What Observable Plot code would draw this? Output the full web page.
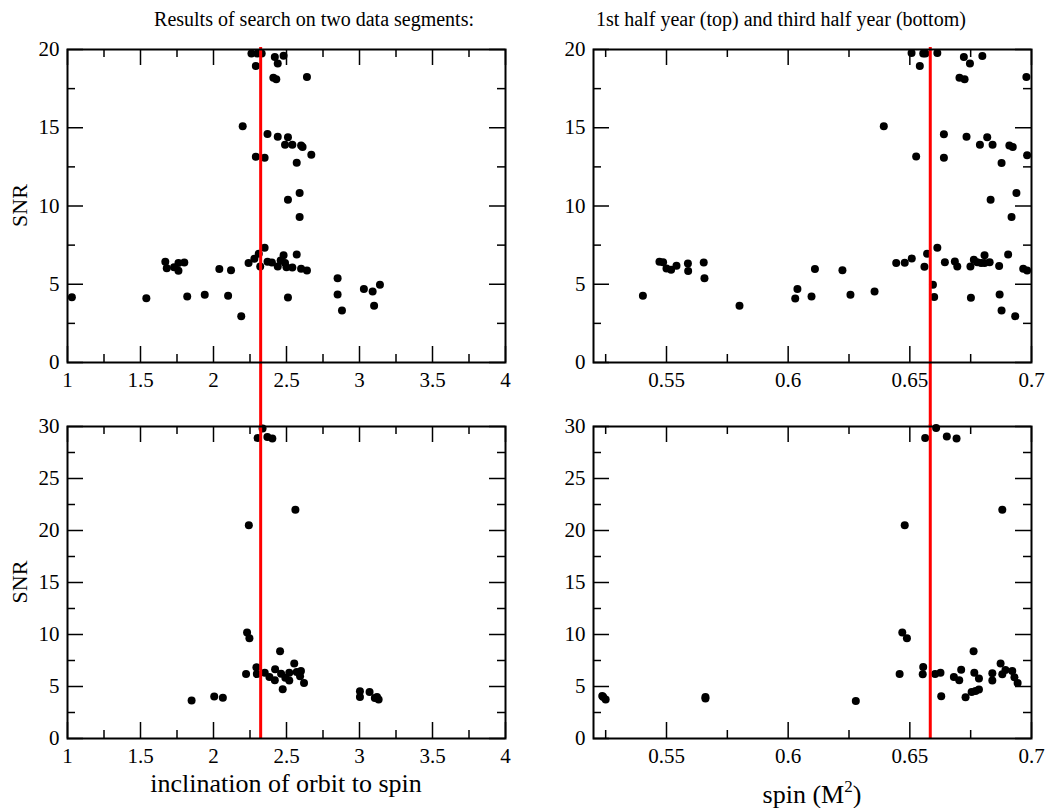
<!DOCTYPE html>
<html><head><meta charset="utf-8">
<script src="https://cdn.jsdelivr.net/npm/d3@7"></script>
<script src="https://cdn.jsdelivr.net/npm/@observablehq/plot@0.6"></script>
<style>
html,body{margin:0;padding:0;background:#fff;}
#chart{position:relative;width:1047px;height:808px;overflow:hidden;background:#fff;}
#chart svg{position:absolute;left:0;top:0;}
#chart svg, #chart svg text, #chart svg tspan{font-family:"Liberation Serif","Times New Roman",serif !important;}
</style></head><body><div id="chart"></div>
<script>
// ---------- data ----------
// first half year (top panels)
const inclTop = [1.03,1.54,1.82,1.94,2.10,2.51,2.19,1.67,1.68,1.73,1.76,1.76,1.80,2.04,2.12,
  2.20,2.29,2.35,2.37,2.44,2.51,2.49,2.54,2.60,2.61,2.67,2.57,2.59,2.51,2.59,
  2.26,2.30,2.33,2.29,2.42,2.48,2.44,2.41,2.43,2.64,
  2.24,2.28,2.31,2.35,2.32,2.37,2.40,2.44,2.46,2.48,2.49,2.50,2.54,2.57,2.60,2.64,
  2.85,2.85,2.88,3.03,3.09,3.14,3.10];
const snrInclTop = [4.17,4.11,4.22,4.33,4.26,4.16,2.95,6.44,6.03,6.09,6.35,5.86,6.39,5.97,5.90,
  15.09,13.15,13.09,14.6,14.43,14.4,13.92,13.92,13.86,13.77,13.28,12.77,10.83,10.4,9.29,
  19.74,19.74,19.74,18.95,19.52,19.6,19.1,18.2,18.1,18.24,
  6.35,6.63,6.95,7.33,6.14,6.44,6.39,6.14,6.52,6.86,6.35,6.09,6.07,6.9,5.99,5.88,
  5.39,4.35,3.32,4.69,4.54,4.97,3.62];
const spinTop = [0.5403,0.5471,0.5486,0.5500,0.5519,0.5541,0.5588,0.5589,0.5653,0.5656,0.5800,
  0.6029,0.6038,0.6096,0.6110,0.6223,0.6256,0.6355,0.6393,0.6444,0.6479,0.6508,0.6526,
  0.6507,0.6555,0.6564,0.6613,0.6541,0.6560,0.6571,0.6613,0.6595,0.6600,0.6640,0.6640,
  0.6644,0.6685,0.6695,0.6704,0.6725,0.6722,0.6747,0.6798,0.6733,0.6751,0.6749,0.6763,
  0.6777,0.6788,0.6793,0.6807,0.6807,0.6818,0.6828,0.6840,0.6832,0.6867,0.6869,0.6877,
  0.6877,0.6904,0.6909,0.6923,0.6918,0.6933,0.6938,0.6966,0.6982,0.6979,0.6982];
const snrSpinTop = [4.26,6.44,6.41,6.01,5.93,6.18,6.33,5.84,6.39,5.39,3.62,
  4.09,4.69,4.22,5.97,5.90,4.33,4.54,15.09,6.35,6.37,6.65,13.17,
  19.78,19.74,19.74,19.78,18.95,6.12,6.95,7.33,4.97,4.18,14.58,13.09,
  6.41,6.46,6.14,18.2,18.1,19.52,19.1,19.58,14.43,4.14,6.14,6.56,
  6.41,13.92,6.35,6.86,6.35,14.4,6.41,13.92,10.4,6.16,4.35,12.74,
  3.32,6.9,13.86,13.77,9.29,2.96,10.83,5.99,5.88,18.24,13.24];
// third half year (bottom panels)
const inclBottom = [2.336,2.302,2.369,2.403,2.561,2.242,2.230,2.246,2.456,2.223,2.294,2.297,
  2.351,2.383,2.422,2.420,2.463,2.492,2.474,2.519,2.519,2.553,2.570,2.599,2.593,2.620,
  1.850,2.005,2.064,3.003,3.003,3.069,3.105,3.131,3.120];
const snrInclBottom = [29.8,28.9,29.0,28.85,22.0,20.5,10.2,9.65,8.38,6.2,6.84,6.2,
  6.33,5.91,6.65,5.6,6.23,5.85,4.73,6.33,5.57,7.2,6.39,6.49,5.98,5.34,
  3.65,4.03,3.93,4.54,3.99,4.47,3.9,3.74,3.99];
const spinBottom = [0.6608,0.6563,0.6652,0.6692,0.6880,0.6479,0.6469,0.6488,0.6762,0.6458,
  0.6555,0.6553,0.6604,0.6626,0.6629,0.6681,0.6711,0.6703,0.6729,0.6754,0.6770,0.6784,
  0.6765,0.6784,0.6839,0.6839,0.6873,0.6880,0.6893,0.6921,0.6930,0.6943,
  0.5236,0.5250,0.5240,0.5660,0.5660,0.6278];
const snrSpinBottom = [29.85,28.89,29.04,28.85,22.0,20.5,10.2,9.65,8.38,6.2,
  6.87,6.17,6.2,6.33,4.06,5.91,6.62,5.6,3.96,4.47,4.57,4.7,
  6.33,5.76,6.27,5.57,7.2,6.17,6.58,6.49,5.88,5.34,
  4.09,3.74,3.99,4.0,3.85,3.61];
// reference lines (red)
const inclMark = 2.323;
const spinMark = 0.6584;
// ticks
const inclDomain = [1, 4];
const spinDomain = [0.52, 0.70];
const inclMajor = [1, 1.5, 2, 2.5, 3, 3.5, 4];
const inclMinor = [1.25, 1.75, 2.25, 2.75, 3.25, 3.75];
const spinMajor = [0.55, 0.6, 0.65, 0.7];
const spinMinor = [0.525, 0.575, 0.625, 0.675];
const snrTopDomain = [0, 20];
const snrTopMajor = [0, 5, 10, 15, 20];
const snrTopMinor = [2.5, 7.5, 12.5, 17.5];
const snrBottomDomain = [0, 30];
const snrBottomMajor = [0, 5, 10, 15, 20, 25, 30];
const snrBottomMinor = [2.5, 7.5, 12.5, 17.5, 22.5, 27.5];
// texts
const titleLeft = "Results of search on two data segments:";
const titleRight = "1st half year (top) and third half year (bottom)";
const yLabel = "SNR";
const xLabelLeft = "inclination of orbit to spin";
const xLabelRight = ["spin (M", "2", ")"];

// ---------- layout ----------
const W = 1047, H = 808;
const FONT = "Liberation Serif, Times New Roman, serif";
const cols = [{l: 67, r: 505}, {l: 593, r: 1031}];
const rows = [{t: 49, b: 362}, {t: 426, b: 738}];

function panel({xs, ys, xDomain, yDomain, xMaj, xMin, yMaj, yMin, col, row, mark, extend}) {
  const fw = col.r - col.l, fh = row.b - row.t;
  const major = 16, minor = 8;
  const idx = d3.range(xs.length);
  return Plot.plot({
    width: W, height: H,
    marginLeft: col.l, marginRight: W - col.r, marginTop: row.t, marginBottom: H - row.b,
    style: {background: "transparent", overflow: "visible", fontFamily: FONT, color: "black"},
    x: {domain: xDomain},
    y: {domain: yDomain},
    marks: [
      Plot.ruleX(xMaj, {insetTop: fh - major, stroke: "black", strokeWidth: 1.5}),
      Plot.ruleX(xMaj, {insetBottom: fh - major, stroke: "black", strokeWidth: 1.5}),
      Plot.ruleX(xMin, {insetTop: fh - minor, stroke: "black", strokeWidth: 1.5}),
      Plot.ruleX(xMin, {insetBottom: fh - minor, stroke: "black", strokeWidth: 1.5}),
      Plot.ruleY(yMaj, {insetRight: fw - major, stroke: "black", strokeWidth: 1.5}),
      Plot.ruleY(yMaj, {insetLeft: fw - major, stroke: "black", strokeWidth: 1.5}),
      Plot.ruleY(yMin, {insetRight: fw - minor, stroke: "black", strokeWidth: 1.5}),
      Plot.ruleY(yMin, {insetLeft: fw - minor, stroke: "black", strokeWidth: 1.5}),
      Plot.axisX(xMaj, {anchor: "bottom", tickSize: 0, tickPadding: 10, tickFormat: d => String(d),
        fontSize: 21, fontFamily: FONT, fill: "black", label: null}),
      Plot.axisY(yMaj, {anchor: "left", tickSize: 0, tickPadding: 8, tickFormat: d => String(d),
        fontSize: 21, fontFamily: FONT, fill: "black", label: null}),
      Plot.dot(idx, {x: i => xs[i], y: i => ys[i], r: 4, fill: "black", stroke: "none"}),
      Plot.ruleX([mark], {stroke: "#ff0000", strokeWidth: 3, insetTop: -2, insetBottom: -extend}),
      Plot.frame({stroke: "black", strokeWidth: 2})
    ]
  });
}

const chart = document.getElementById("chart");
const gap = rows[1].t - rows[0].b;
const specs = [
  {xs: inclTop, ys: snrInclTop, xDomain: inclDomain, yDomain: snrTopDomain, xMaj: inclMajor, xMin: inclMinor,
   yMaj: snrTopMajor, yMin: snrTopMinor, col: cols[0], row: rows[0], mark: inclMark, extend: gap},
  {xs: spinTop, ys: snrSpinTop, xDomain: spinDomain, yDomain: snrTopDomain, xMaj: spinMajor, xMin: spinMinor,
   yMaj: snrTopMajor, yMin: snrTopMinor, col: cols[1], row: rows[0], mark: spinMark, extend: gap},
  {xs: inclBottom, ys: snrInclBottom, xDomain: inclDomain, yDomain: snrBottomDomain, xMaj: inclMajor, xMin: inclMinor,
   yMaj: snrBottomMajor, yMin: snrBottomMinor, col: cols[0], row: rows[1], mark: inclMark, extend: 0},
  {xs: spinBottom, ys: snrSpinBottom, xDomain: spinDomain, yDomain: snrBottomDomain, xMaj: spinMajor, xMin: spinMinor,
   yMaj: snrBottomMajor, yMin: snrBottomMinor, col: cols[1], row: rows[1], mark: spinMark, extend: 0}
];
for (const s of specs) {
  const el = panel(s);
  el.style.position = "absolute";
  el.style.left = "0px";
  el.style.top = "0px";
  chart.appendChild(el);
}

// overlay texts (titles and axis labels)
const svg = d3.select(chart).append("svg")
  .attr("width", W).attr("height", H)
  .style("position", "absolute").style("left", 0).style("top", 0)
  .attr("font-family", FONT).attr("fill", "black");
svg.append("text").attr("x", 474).attr("y", 26).attr("text-anchor", "end").attr("font-size", 20).text(titleLeft);
svg.append("text").attr("x", 596).attr("y", 26).attr("text-anchor", "start").attr("font-size", 20).text(titleRight);
for (const r of rows) {
  svg.append("text").attr("transform", `translate(27,${(r.t + r.b) / 2}) rotate(-90)`)
    .attr("text-anchor", "middle").attr("font-size", 22).text(yLabel);
}
svg.append("text").attr("x", (cols[0].l + cols[0].r) / 2).attr("y", 792).attr("text-anchor", "middle")
  .attr("font-size", 26).text(xLabelLeft);
const t = svg.append("text").attr("x", (cols[1].l + cols[1].r) / 2).attr("y", 803).attr("text-anchor", "middle")
  .attr("font-size", 26);
t.append("tspan").text(xLabelRight[0]);
t.append("tspan").attr("font-size", 17).attr("dy", -11).text(xLabelRight[1]);
t.append("tspan").attr("dy", 11).text(xLabelRight[2]);
</script></body></html>
